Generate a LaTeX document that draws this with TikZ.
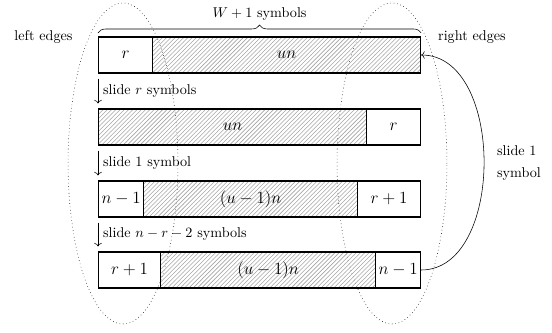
\documentclass[tikz,border=0pt]{standalone}
\usetikzlibrary{patterns,decorations.pathreplacing,arrows.meta}
\begin{document}
\begin{tikzpicture}[x=0.7042pt,y=-0.7042pt,
  seg/.style={draw=black, thick, anchor=west, minimum height=25.35pt, inner sep=0pt, font=\large},
  hatch/.style={seg, pattern=north east lines, pattern color=gray!70},
  lbl/.style={font=\normalsize},
  edge/.style={dotted, thin},
  slidearrow/.style={->}
]
\useasboundingbox (0,0) rectangle (552,332);
% ellipses
\draw[edge] (123,163.5) ellipse [x radius=38.7pt, y radius=113pt];
\draw[edge] (392,163.5) ellipse [x radius=38.7pt, y radius=113pt];
% row 1
\node[hatch, minimum width=188.7pt] (r1b) at (152,55) {$un$};
\node[seg, minimum width=38.0pt] (r1a) at (98,55) {$r$};
% row 2
\node[hatch, minimum width=188.7pt] (r2a) at (98,127) {$un$};
\node[seg, minimum width=38.0pt] (r2b) at (366,127) {$r$};
% row 3
\node[hatch, minimum width=150.7pt] (r3b) at (143,199) {$(u-1)n$};
\node[seg, minimum width=31.7pt] (r3a) at (98,199) {$n-1$};
\node[seg, minimum width=44.4pt] (r3c) at (357,199) {$r+1$};
% row 4
\node[hatch, minimum width=151.4pt] (r4b) at (160,270) {$(u-1)n$};
\node[seg, minimum width=43.7pt] (r4a) at (98,270) {$r+1$};
\node[seg, minimum width=31.7pt] (r4c) at (375,270) {$n-1$};
% brace
\draw[decorate, decoration={brace, amplitude=5.5pt}] ([yshift=2.5pt]r1a.north west) -- ([yshift=2.5pt]r1b.north east)
  node[midway, above=5pt, lbl] (wlab) {$W+1$ symbols};
% side labels
\node[lbl] (le) at (43.5,37) {left edges};
\node[lbl] (re) at (472,37) {right edges};
% slide arrows
\draw[slidearrow] ([yshift=-3.5pt]r1a.south west) -- ([yshift=3.5pt]r2a.north west)
  node[midway, right, lbl] {slide $r$ symbols};
\draw[slidearrow] ([yshift=-3.5pt]r2a.south west) -- ([yshift=3.5pt]r3a.north west)
  node[midway, right, lbl] {slide 1 symbol};
\draw[slidearrow] ([yshift=-3.5pt]r3a.south west) -- ([yshift=3.5pt]r4a.north west)
  node[midway, right, lbl] {slide $n-r-2$ symbols};
% curved arrow
\draw[slidearrow] (r4c.east) to[out=0, in=0] (r1b.east);
\node[lbl, anchor=west, align=left] (sl) at (492,163) {slide 1\\[4pt]symbol};
\end{tikzpicture}
\end{document}
